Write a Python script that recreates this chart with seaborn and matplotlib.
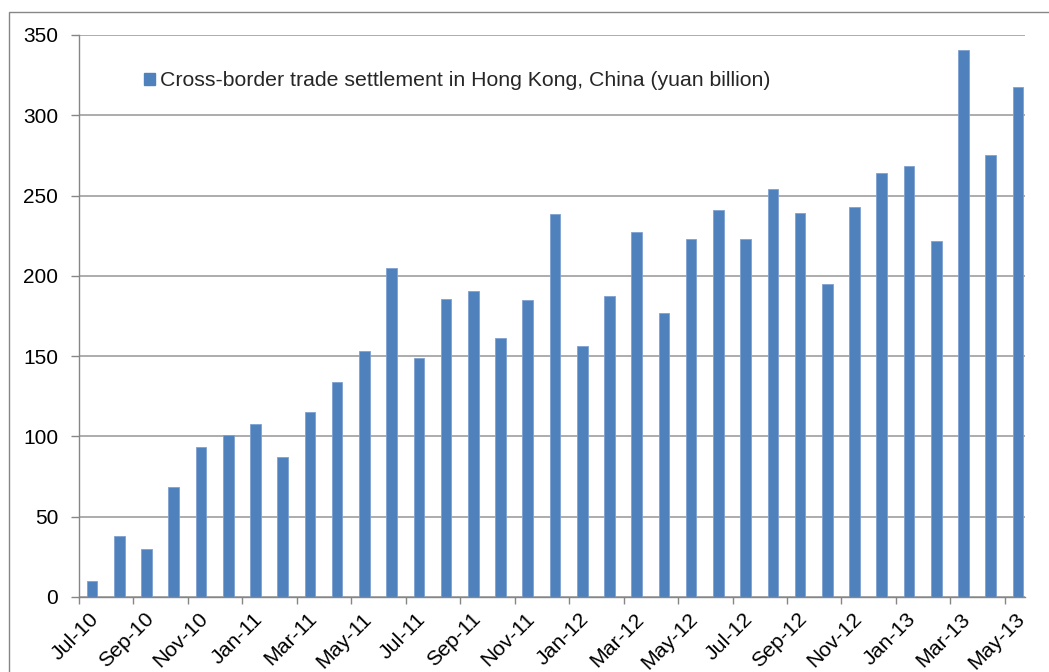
import matplotlib
matplotlib.use("Agg")
import matplotlib.pyplot as plt
import matplotlib.transforms as mtransforms
from matplotlib.patches import Rectangle, Patch
import seaborn as sns
import pandas as pd

months = ["Jul-10", "Aug-10", "Sep-10", "Oct-10", "Nov-10", "Dec-10",
          "Jan-11", "Feb-11", "Mar-11", "Apr-11", "May-11", "Jun-11",
          "Jul-11", "Aug-11", "Sep-11", "Oct-11", "Nov-11", "Dec-11",
          "Jan-12", "Feb-12", "Mar-12", "Apr-12", "May-12", "Jun-12",
          "Jul-12", "Aug-12", "Sep-12", "Oct-12", "Nov-12", "Dec-12",
          "Jan-13", "Feb-13", "Mar-13", "Apr-13", "May-13"]
values = [10.2, 38.2, 29.7, 68.5, 93.6, 100.7,
          107.5, 87.2, 115.2, 133.9, 153.2, 204.9,
          148.8, 185.8, 190.4, 161.3, 185.0, 238.7,
          156.3, 187.5, 227.1, 177.1, 223.2, 241.2,
          223.2, 253.9, 239.1, 195.1, 242.7, 263.9,
          268.2, 221.5, 340.7, 275.1, 317.8]
series_name = "Cross-border trade settlement in Hong Kong, China (yuan billion)"
y_ticks = [0, 50, 100, 150, 200, 250, 300, 350]

df = pd.DataFrame({"month": months, "value": values})

sns.set_theme(style="white")
plt.rcParams["font.family"] = ["Liberation Sans", "DejaVu Sans"]

W, H = 1049, 672
fig = plt.figure(figsize=(W / 100, H / 100), dpi=100)
ax = fig.add_axes([79 / W, 1 - 597 / H, (1025 - 79) / W, (597 - 35) / H])

bar_color = "#4F81BD"
sns.barplot(data=df, x="month", y="value", order=months, color=bar_color,
            width=0.39, saturation=1, ax=ax, edgecolor="#7FA2D0", linewidth=0.6)

ax.set_xlim(-0.48, 34.26)
ax.set_ylim(0, 350)
ax.set_yticks(y_ticks)
ax.set_yticklabels([str(v) for v in y_ticks])
tick_pos = [i - 0.48 for i in range(0, len(months), 2)]
ax.set_xticks(tick_pos)
ax.set_xticklabels(months[::2])
ax.set_xlabel("")
ax.set_ylabel("")

grid_c = "#A6A6A6"
ax.yaxis.grid(True, color=grid_c, linewidth=1.3)
ax.xaxis.grid(False)
ax.set_axisbelow(True)
for s in ["top", "right"]:
    ax.spines[s].set_visible(False)
for s in ["left", "bottom"]:
    ax.spines[s].set_color("#868686")
    ax.spines[s].set_linewidth(1.0)

ax.tick_params(axis="y", which="major", direction="out", length=6, width=1.0,
               color="#868686", labelsize=15, pad=9, labelcolor="black", left=True)
ax.tick_params(axis="x", which="major", direction="out", length=5, width=1.0,
               color="#868686", labelsize=15.3, pad=0, labelcolor="black", bottom=True)

offset = mtransforms.ScaledTranslation(17 / 100, -12 / 100, fig.dpi_scale_trans)
for lab in ax.get_xticklabels():
    lab.set_rotation(45)
    lab.set_ha("right")
    lab.set_va("center")
    lab.set_rotation_mode("anchor")
    lab.set_transform(lab.get_transform() + offset)

handle = Patch(facecolor=bar_color, edgecolor=bar_color)
leg = fig.legend([handle], [series_name], loc="center left",
                 bbox_to_anchor=(135.5 / W, 1 - 81 / H), frameon=False,
                 fontsize=15.3, handlelength=0.5, handleheight=0.5,
                 handletextpad=0.25, borderaxespad=0)

fig.patches.append(Rectangle((9 / W, -0.1), 1.2, 1 - 12 / H + 0.1,
                             transform=fig.transFigure, fill=False,
                             edgecolor="#868686", linewidth=1.0))

fig.savefig("out.png", dpi=100)
